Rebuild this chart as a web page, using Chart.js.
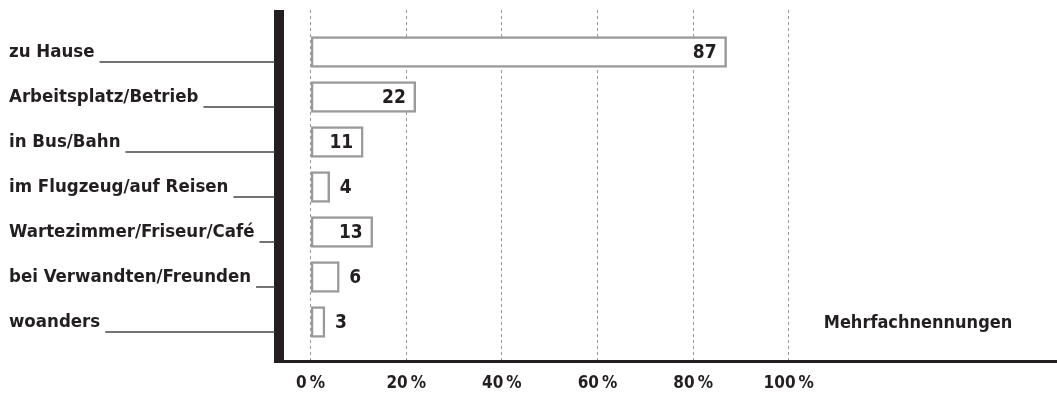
<!DOCTYPE html>
<html>
<head>
<meta charset="utf-8">
<script src="https://cdn.jsdelivr.net/npm/chart.js@4/dist/chart.umd.min.js"></script>
<style>
  body { margin: 0; background: #fff; }
  #wrap { width: 1057px; height: 404px; position: relative; }
</style>
</head>
<body>
<div id="wrap"><canvas id="bar-chart"></canvas></div>
<script>
const categories = [
  "zu Hause",
  "Arbeitsplatz/Betrieb",
  "in Bus/Bahn",
  "im Flugzeug/auf Reisen",
  "Wartezimmer/Friseur/Café",
  "bei Verwandten/Freunden",
  "woanders",
];
const values = [87, 22, 11, 4, 13, 6, 3];
const tickValues = [0, 20, 40, 60, 80, 100];
const note = "Mehrfachnennungen";

const ink = "#231f20";
const fontFamily = "'DejaVu Sans Condensed', 'DejaVu Sans', sans-serif";

// thick left axis, drawn under the bars
const axisPlugin = {
  id: "axis",
  beforeDatasetsDraw: (chart) => {
    const { ctx, chartArea } = chart;
    ctx.save();
    ctx.strokeStyle = ink;
    ctx.lineWidth = 10;
    ctx.beginPath();
    ctx.moveTo(chartArea.left, chartArea.top);
    ctx.lineTo(chartArea.left, chartArea.bottom + 2);
    ctx.stroke();
    ctx.restore();
  },
};

// labels on the left with their underscore line, value numbers next to the bars
const labelPlugin = {
  id: "labels",
  afterDatasetsDraw: (chart) => {
    const { ctx, chartArea } = chart;
    const xScale = chart.scales.x;
    const yScale = chart.scales.y;
    ctx.save();
    ctx.fillStyle = ink;
    ctx.textBaseline = "middle";

    ctx.font = `bold 18.5px ${fontFamily}`;
    categories.forEach((label, i) => {
      const y = yScale.getPixelForValue(i);
      ctx.textAlign = "left";
      ctx.fillText(label, 9, y);
      const w = ctx.measureText(label).width;
      ctx.strokeStyle = "#444";
      ctx.lineWidth = 1.5;
      ctx.beginPath();
      ctx.moveTo(9 + w + 5, y + 10);
      ctx.lineTo(chartArea.left - 4, y + 10);
      ctx.stroke();
    });

    ctx.font = `bold 19px ${fontFamily}`;
    values.forEach((v, i) => {
      const y = yScale.getPixelForValue(i);
      const end = xScale.getPixelForValue(v);
      if (v >= 10) {
        ctx.textAlign = "right";
        ctx.fillText(String(v), end - 10, y + 1);
      } else {
        ctx.textAlign = "left";
        ctx.fillText(String(v), end + 10, y + 1);
      }
    });

    ctx.font = `bold 18px ${fontFamily}`;
    ctx.textAlign = "center";
    ctx.fillText(note, 918, yScale.getPixelForValue(categories.length - 1) + 1);
    ctx.restore();
  },
};

const data = {
  datasets: [
    {
      data: values.map((v, i) => ({ x: v, y: i })),
      backgroundColor: "#ffffff",
      borderColor: "#9a9a9a",
      borderWidth: 2.5,
      borderSkipped: false,
      barThickness: 31,
    },
  ],
};

const options = {
  indexAxis: "y",
  responsive: true,
  maintainAspectRatio: false,
  animation: false,
  layout: { padding: { top: 10, right: 0, left: 0, bottom: 0 } },
  plugins: {
    legend: { display: false },
    tooltip: { enabled: false },
  },
  scales: {
    x: {
      type: "linear",
      min: -6.61,
      max: 156.1,
      afterBuildTicks: (scale) => {
        scale.ticks = tickValues.map((v) => ({ value: v }));
      },
      afterFit: (scale) => {
        scale.height = 43;
      },
      ticks: {
        padding: 12,
        color: ink,
        font: { family: fontFamily, size: 17, weight: "bold" },
        callback: (v) => `${v}\u2009%`,
      },
      grid: { color: "#9a9a9a", lineWidth: 1, drawTicks: false },
      border: { display: true, color: ink, width: 3, dash: [3, 3] },
    },
    y: {
      type: "linear",
      reverse: true,
      offset: false,
      min: -0.933,
      max: 6.867,
      afterFit: (scale) => {
        scale.width = 279;
      },
      ticks: { display: false },
      grid: { display: false },
      border: { display: false },
    },
  },
};

new Chart(document.getElementById("bar-chart"), {
  type: "bar",
  data: data,
  options: options,
  plugins: [axisPlugin, labelPlugin],
});
</script>
</body>
</html>
